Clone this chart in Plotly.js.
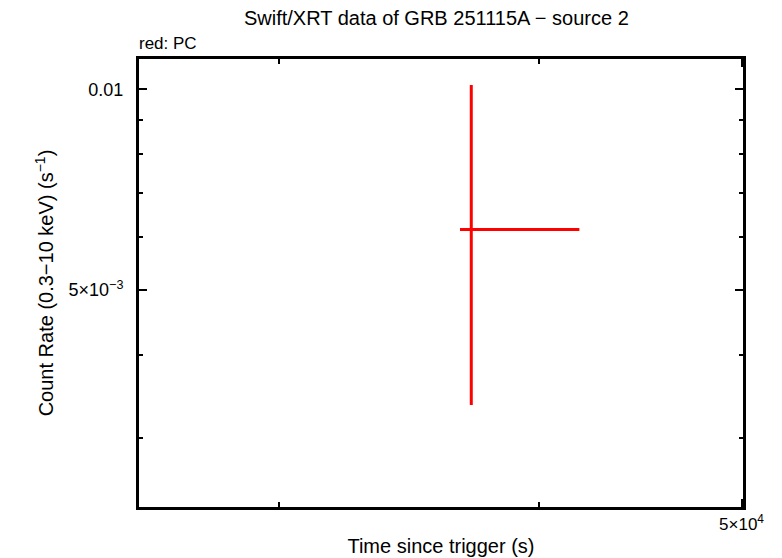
<!DOCTYPE html>
<html>
<head>
<meta charset="utf-8">
<script src="https://cdn.plot.ly/plotly-3.0.1.min.js"></script>
<style>html,body{margin:0;padding:0;background:#fff;}#chart{width:782px;height:558px;}</style>
</head>
<body>
<div id="chart"></div>
<script>
// PC mode data (source 2)
const pcTime = [37097];
const pcTimeErrPlus = [4705];
const pcTimeErrMinus = [459];
const pcRate = [0.006166];
const pcRateErrPlus = [0.003984];
const pcRateErrMinus = [0.002802];

const xRange = [25700, 50083];
const yRange = [0.002365, 0.011103];
const yMajorVals = [0.005, 0.01];
const yMajorText = ['5×10<sup>−3</sup>', '0.01'];
const yMinorVals = [0.003, 0.004, 0.006, 0.007, 0.008, 0.009];
const xMajorVals = [50000];
const xMajorText = ['5×10<sup>4</sup>'];
const xMinorVals = [30000, 40000];

const font = 'Liberation Sans, Arial, Helvetica, sans-serif';

const trace = {
  x: pcTime, y: pcRate, type: 'scatter', mode: 'markers',
  marker: {size: 0.1, color: '#ff0000'},
  error_x: {type: 'data', symmetric: false, array: pcTimeErrPlus, arrayminus: pcTimeErrMinus, color: '#ff0000', thickness: 3, width: 0},
  error_y: {type: 'data', symmetric: false, array: pcRateErrPlus, arrayminus: pcRateErrMinus, color: '#ff0000', thickness: 3, width: 0},
  hoverinfo: 'skip', showlegend: false
};

const layout = {
  width: 782, height: 558,
  margin: {l: 139, r: 39, t: 59, b: 51},
  paper_bgcolor: '#ffffff', plot_bgcolor: '#ffffff',
  font: {family: font, size: 18, color: '#000'},
  showlegend: false,
  title: {text: 'Swift/XRT data of GRB 251115A − source 2', font: {family: font, size: 20, color: '#000'}, x: 0.558, xanchor: 'center', y: 0.98, yanchor: 'top'},
  xaxis: {
    type: 'log', range: xRange.map(Math.log10), autorange: false,
    showline: true, linecolor: '#000', linewidth: 3, mirror: 'ticks',
    showgrid: false, zeroline: false,
    ticks: 'inside', ticklen: 8, tickwidth: 2, tickcolor: '#000',
    tickmode: 'array', tickvals: xMajorVals, ticktext: xMajorText,
    tickfont: {family: font, size: 17, color: '#000'},
    minor: {tickmode: 'array', tickvals: xMinorVals, ticks: 'inside', ticklen: 5, tickwidth: 2, tickcolor: '#000', showgrid: false},
    title: {text: 'Time since trigger (s)', font: {family: font, size: 20, color: '#000'}, standoff: 6}
  },
  yaxis: {
    type: 'log', range: yRange.map(Math.log10), autorange: false,
    showline: true, linecolor: '#000', linewidth: 3, mirror: 'ticks',
    showgrid: false, zeroline: false,
    ticks: 'inside', ticklen: 8, tickwidth: 2, tickcolor: '#000',
    tickmode: 'array', tickvals: yMajorVals, ticktext: yMajorText,
    ticklabelstandoff: 9,
    tickfont: {family: font, size: 18, color: '#000'},
    minor: {tickmode: 'array', tickvals: yMinorVals, ticks: 'inside', ticklen: 4, tickwidth: 2, tickcolor: '#000', showgrid: false},
    title: {text: 'Count Rate (0.3−10 keV) (s<sup>−1</sup>)', font: {family: font, size: 20, color: '#000'}, standoff: 10}
  },
  annotations: [{
    text: 'red: PC', xref: 'paper', yref: 'paper', x: 0, y: 1, xanchor: 'left', yanchor: 'bottom',
    yshift: 4, xshift: -2, showarrow: false, font: {family: font, size: 17, color: '#000'}
  }]
};

Plotly.newPlot('chart', [trace], layout, {displayModeBar: false, staticPlot: true});
</script>
</body>
</html>
